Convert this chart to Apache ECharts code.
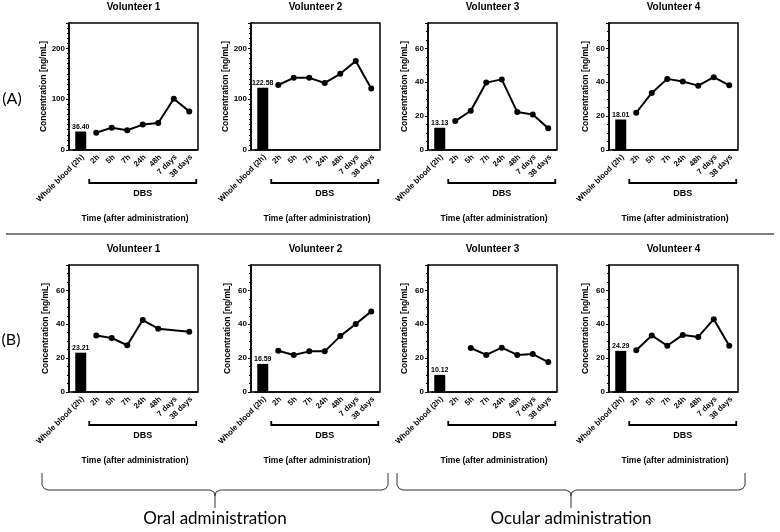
<!DOCTYPE html>
<html lang="en">
<head>
<meta charset="UTF-8">
<title>DBS concentration</title>
<script src="https://cdn.jsdelivr.net/npm/echarts@6/dist/echarts.min.js"></script>
<style>html,body{margin:0;padding:0;background:#fff}</style>
</head>
<body>
<div id="main" style="width:780px;height:532px;"></div>
<script type="text/javascript">
// data
var categories = ['Whole blood (2h)', '2h', '5h', '7h', '24h', '48h', '7 days', '38 days'];
var volunteers = ['Volunteer 1', 'Volunteer 2', 'Volunteer 3', 'Volunteer 4'];

// (A) row
var wholeBloodA = [36.40, 122.58, 13.13, 18.01];
var dbsA1 = [34, 44, 39, 50, 53, 101, 76];
var dbsA2 = [128, 142, 142, 132, 150, 175, 121];
var dbsA3 = [17.1, 23.2, 39.8, 41.7, 22.4, 21.0, 12.8];
var dbsA4 = [22.0, 33.7, 42.0, 40.4, 38.0, 43.0, 38.2];
var yMaxA = [250, 250, 75, 75];
var yStepA = [100, 100, 20, 20];

// (B) row
var wholeBloodB = [23.21, 16.59, 10.12, 24.29];
var dbsB1 = [33.3, 31.9, 27.6, 42.5, 37.4, null, 35.6];
var dbsB2 = [24.4, 21.9, 24.0, 24.0, 33.0, 40.2, 47.6];
var dbsB3 = [null, 26.0, 21.9, 26.2, 21.9, 22.4, 17.7];
var dbsB4 = [24.7, 33.4, 27.3, 33.7, 32.5, 43.0, 27.3];
var yMaxB = [75, 75, 75, 75];
var yStepB = [20, 20, 20, 20];

var groupNames = ['Oral administration', 'Ocular administration'];

// layout
var colLeft = [69, 251, 428, 609];
var rowTop = [23, 265];
var boxW = 129, boxH = 127;
var FONT = 'Arial, sans-serif';
var BIG_FONT = 'Lato, sans-serif';

var panels = [];
[[wholeBloodA, [dbsA1, dbsA2, dbsA3, dbsA4], yMaxA, yStepA],
 [wholeBloodB, [dbsB1, dbsB2, dbsB3, dbsB4], yMaxB, yStepB]].forEach(function (row, r) {
    for (var c = 0; c < 4; c++) {
        panels.push({ r: r, c: c, wb: row[0][c], dbs: row[1][c], max: row[2][c], step: row[3][c] });
    }
});

function txt(s, x, y, size, weight, family) {
    return {
        type: 'text', silent: true,
        style: {
            text: s, x: x, y: y, fill: '#000', fontSize: size, fontWeight: weight || 'normal',
            fontFamily: family || FONT, textAlign: 'center', textVerticalAlign: 'middle'
        }
    };
}

var grids = [], xAxes = [], yAxes = [], series = [], titles = [], graphics = [];
panels.forEach(function (p, i) {
    var left = colLeft[p.c], top = rowTop[p.r];
    var gw = boxW - 5;
    var band = gw / categories.length;
    grids.push({ left: left + 4, top: top, width: gw, height: boxH });
    titles.push({
        text: volunteers[p.c], left: left + boxW / 2, top: top - 21, textAlign: 'center', padding: 0,
        textStyle: { fontSize: 10, fontWeight: 'bold', color: '#000', fontFamily: FONT }
    });
    xAxes.push({
        type: 'category', gridIndex: i, data: categories, boundaryGap: true,
        axisLine: { lineStyle: { color: '#000', width: 1.5 } },
        axisTick: { alignWithLabel: true, length: 3, lineStyle: { color: '#000', width: 1 } },
        axisLabel: { show: false },
        name: 'Time (after administration)', nameLocation: 'middle', nameGap: 64,
        nameTextStyle: { fontSize: 8.5, fontWeight: 'bold', color: '#000', fontFamily: FONT }
    });
    yAxes.push({
        type: 'value', gridIndex: i, min: 0, max: p.max, interval: p.step, offset: 4,
        axisLine: { show: true, lineStyle: { color: '#000', width: 1.5 } },
        axisTick: { show: true, length: 3, lineStyle: { color: '#000' } },
        minorTick: { show: true, splitNumber: p.step === 100 ? 10 : 4, length: 2, lineStyle: { color: '#000' } },
        splitLine: { show: false },
        axisLabel: { fontSize: 8, fontWeight: 'bold', color: '#000', margin: 4, showMaxLabel: false, fontFamily: FONT },
        name: 'Concentration [ng/mL]', nameLocation: 'middle', nameGap: 19,
        nameTextStyle: { fontSize: 8.5, fontWeight: 'bold', color: '#000', fontFamily: FONT }
    });
    var barData = categories.map(function (d, k) { return k === 0 ? p.wb : '-'; });
    var lineData = ['-'].concat(p.dbs.map(function (v) { return v == null ? '-' : v; }));
    series.push({
        type: 'bar', xAxisIndex: i, yAxisIndex: i, data: barData, barWidth: 11,
        itemStyle: { color: '#000' },
        label: {
            show: true, position: 'top', distance: 1, fontSize: 7, fontWeight: 'bold', color: '#000', fontFamily: FONT,
            formatter: function (prm) { return Number(prm.value).toFixed(2); }
        }
    });
    series.push({
        type: 'line', xAxisIndex: i, yAxisIndex: i, data: lineData, connectNulls: true,
        symbol: 'circle', symbolSize: 6,
        lineStyle: { color: '#000', width: 2 }, itemStyle: { color: '#000' }
    });

    // slanted category labels (45 degrees, ending at each tick)
    categories.forEach(function (name, k) {
        graphics.push({
            type: 'text', silent: true,
            x: left + 4 + band * (k + 0.5) + 2, y: top + boxH + 6, rotation: Math.PI / 4,
            style: {
                text: name, fill: '#000', fontSize: 7.8, fontWeight: 'bold', fontFamily: FONT,
                textAlign: 'right', textVerticalAlign: 'middle'
            }
        });
    });

    // panel frame and the DBS bracket under the 2h..38 days categories
    graphics.push({
        type: 'rect', silent: true, z: 10,
        shape: { x: left, y: top, width: boxW, height: boxH },
        style: { fill: 'none', stroke: '#000', lineWidth: 1.5 }
    });
    var x1 = left + 4 + band * 1.5 - 7;
    var x2 = left + 4 + band * (categories.length - 0.5) + 7;
    var yb = top + boxH + 33;
    graphics.push({
        type: 'polyline', silent: true,
        shape: { points: [[x1, yb - 4], [x1, yb], [x2, yb], [x2, yb - 4]] },
        style: { fill: 'none', stroke: '#000', lineWidth: 1.8 }
    });
    graphics.push(txt('DBS', (x1 + x2) / 2, yb + 11, 9, 'bold'));
});

// separator between rows
graphics.push({
    type: 'line', silent: true,
    shape: { x1: 6, y1: 234, x2: 774, y2: 234 },
    style: { stroke: '#000', lineWidth: 1 }
});
graphics.push(txt('(A)', 12, 99, 16, 'normal', BIG_FONT));
graphics.push(txt('(B)', 11, 340, 16, 'normal', BIG_FONT));

// curly braces under the columns
[[42, 388], [397, 745]].forEach(function (b, k) {
    var a = b[0], z = b[1], m = (a + z) / 2;
    graphics.push({
        type: 'polyline', silent: true,
        shape: { points: [[a, 473], [a, 485], [a + 2, 488.5], [a + 6, 490], [m - 5, 490], [m - 1, 492], [m, 496], [m, 508]] },
        style: { fill: 'none', stroke: '#333', lineWidth: 1 }
    });
    graphics.push({
        type: 'polyline', silent: true,
        shape: { points: [[z, 473], [z, 485], [z - 2, 488.5], [z - 6, 490], [m + 5, 490], [m + 1, 492], [m, 496]] },
        style: { fill: 'none', stroke: '#333', lineWidth: 1 }
    });
    graphics.push(txt(groupNames[k], m, 519, 17, 'normal', BIG_FONT));
});

var myChart = echarts.init(document.getElementById('main'));
myChart.setOption({
    animation: false,
    backgroundColor: '#fff',
    title: titles,
    grid: grids,
    xAxis: xAxes,
    yAxis: yAxes,
    series: series,
    graphic: graphics
});
</script>
</body>
</html>
